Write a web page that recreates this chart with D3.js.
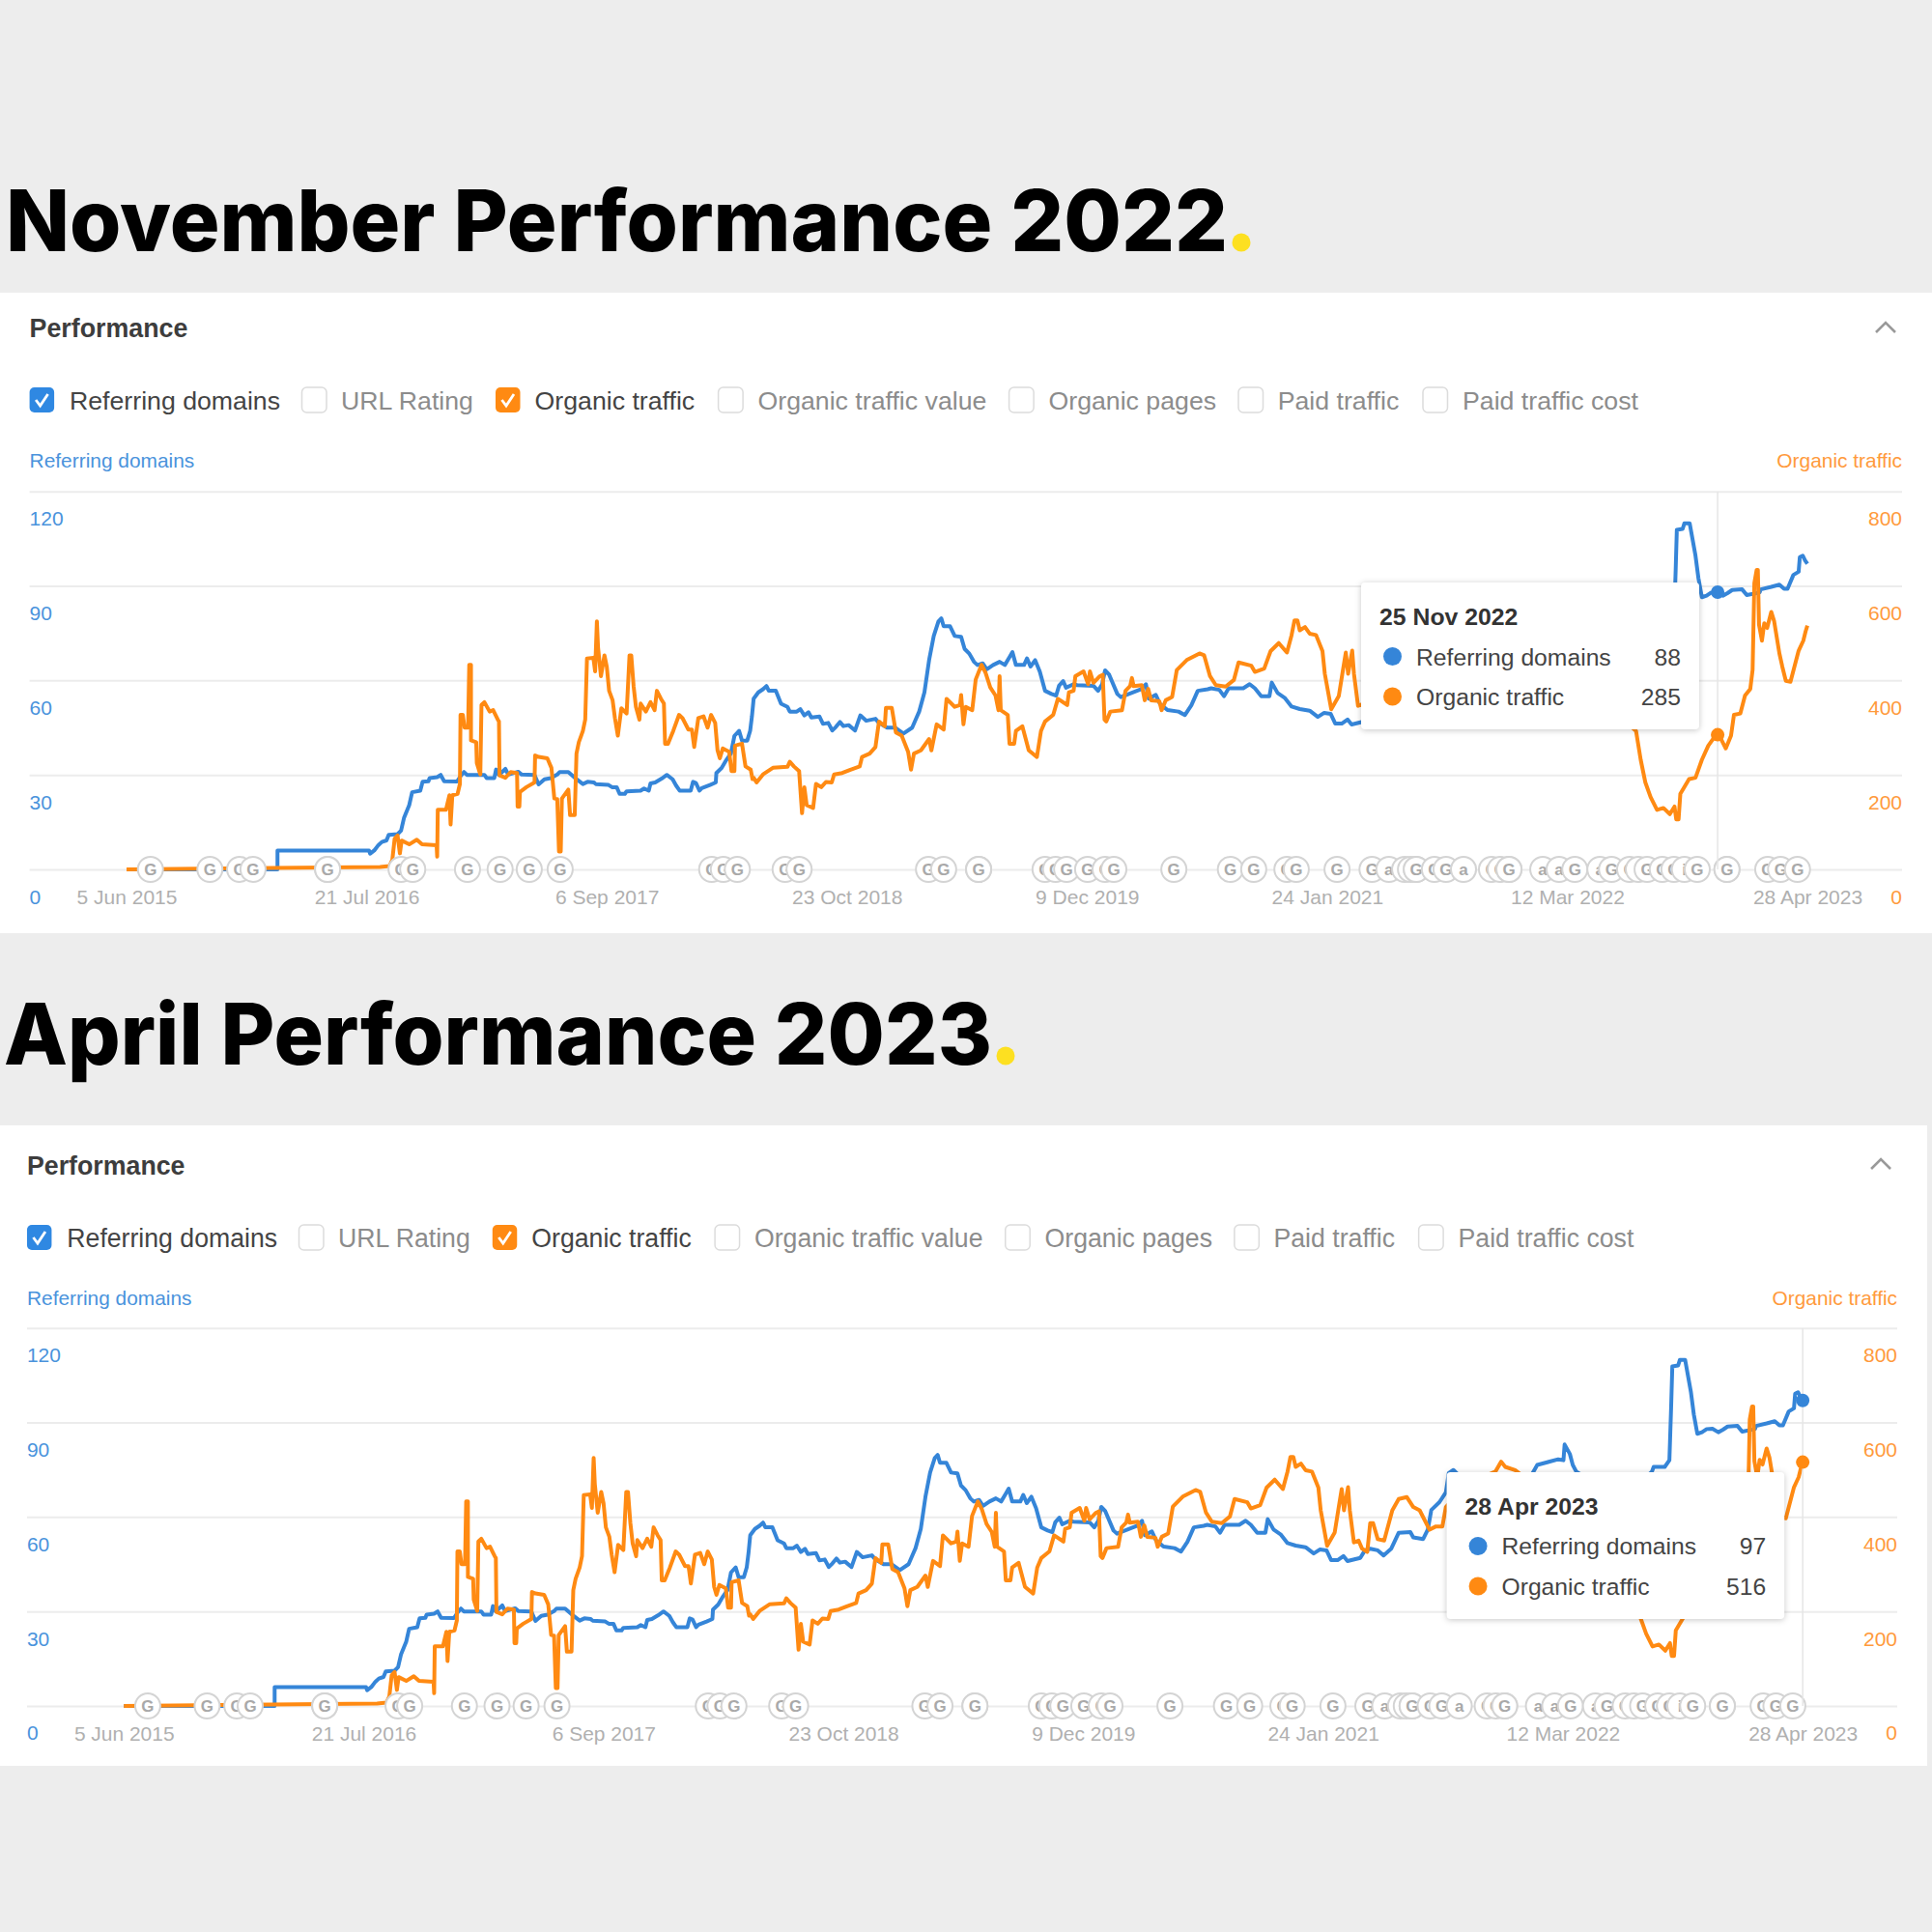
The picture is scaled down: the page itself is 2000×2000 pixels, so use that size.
<!DOCTYPE html>
<html>
<head>
<meta charset="utf-8">
<script src="https://cdn.jsdelivr.net/npm/d3@7"></script>
<style>
  body { margin: 0; background: #ededed; }
  svg { display: block; }
  text { font-family: "Liberation Sans", Arial, sans-serif; }
  .headline { font-family: Inter, sans-serif; font-weight: 800; }
</style>
</head>
<body>
<svg id="chart" width="2000" height="2000"></svg>
<script>
// days since 5 Jun 2015. parts hidden by both tooltips are estimates
const domainDays = [0,259,259,416,418,425,432,438,446,450,465,471,476,485,490,504,508,518,520,533,539,545,567,573,579,584,614,618,631,634,639,650,655,672,678,700,707,717,728,739,743,758,769,783,791,802,805,827,833,841,846,855,858,882,888,896,899,907,918,927,937,943,949,968,972,977,983,987,1001,1011,1012,1021,1029,1037,1043,1051,1056,1065,1070,1073,
  1076,1084,1092,1098,1102,1114,1123,1134,1138,1150,1156,1163,1170,1175,1189,1195,1204,1211,1217,1224,1230,1239,1250,1259,1269,1285,1291,1305,1319,1333,1348,1355,1360,1369,1377,1385,1393,1398,1402,1413,1421,1432,1438,1446,1454,1460,1469,1476,1487,1498,1507,1515,1520,1526,1540,1545,1551,1559,1567,1576,1587,1595,1600,1607,1612,1625,1631,1659,1667,1674,1679,1686,1700,1706,1741,1749,1754,1766,1773,1786,1805,1816,1827,1838,1855,
  1861,1875,1883,1891,1916,1927,1936,1947,1961,1965,1975,1987,1999,2013,2030,2044,2055,2066,2074,2085,2095,2102,2124,2132,2141,2154,2164,2177,2190,2210,2215,2232,2240,2246,2260,2271,2276,2284,2300,2350,2400,2420,2428,2448,2464,2473,2475,2484,2489,2495,2550,2600,2625,2628,2647,2655,
  2658,2660,2670,2673,2682,2692,2697,2703,2711,2719,2729,2739,2747,2755,2772,2780,2802,2804,2822,2836,2844,2850,2860,2869,2871,2876,2880,2884];
const domainValues = [0,0,6,6,5,6,7.7,8.7,9.2,11,11.2,12.3,16.3,20.4,24.5,25,27.8,28,29,29.3,30,28,27.9,29.6,30.9,30,30,29,29,31.7,30,31.9,30.1,31,30.1,30,27,28.6,29,30.1,30.9,30.9,29.1,27.1,27.8,27.6,27.1,26.8,26.1,26.1,24,24,24.8,25,25.7,25,27.3,27.6,28.8,30,28.6,26.6,25,25,27.8,27.4,25,25.8,26.8,27.6,30.6,32.2,34.7,36.8,42.4,44,40.9,40.9,44,48.5,
  54.2,56.2,57.2,58.2,56.7,56.7,52.6,51.6,50.1,50.1,50.9,48.9,49.9,48.2,48.5,46.2,46.5,44.1,45.2,46.8,45.5,45.8,44.1,48.9,47.2,47.8,46.5,45,45,43.1,45,48,50.1,56.2,66.4,74.1,78.7,79.7,77.2,77.2,74.1,73.8,70,68.5,65.9,64.9,65.4,63.5,64.9,65.9,64.9,67.4,69,64.9,64.9,67,64.4,66.4,62.8,56.7,55.7,55.2,58.3,59.8,57.7,58.8,58.5,58.3,56.7,58.8,63.2,61.8,55.7,54.7,57.2,58.8,54.2,55.4,52.6,50.6,50.1,49,52.1,56.7,57.2,
  57.5,57,55,57.5,57.5,58.8,57.5,55,55,59.3,56,54.5,51.7,50.9,50.4,48.4,49.7,49.4,46.3,46.3,47.6,46,47,49.4,49.9,49.4,47.8,49.9,55,55.2,53.5,53,56,62.2,64.7,67.8,73.9,74.9,72,70,70,73.9,76.5,77.5,78.3,78,83,80,76.5,74.4,68,70,74.4,75.9,75.9,78,
  95,107.8,108.1,109.9,109.9,99.6,92.5,86.4,86.9,87.9,88,86.9,87.7,88.7,88.9,87.1,87.9,88.9,89.7,90.4,89.1,89.1,93.5,94.5,99.1,99.6,98.1,97];

const trafficDays = [0,435,451,456,460,465,469,472,485,498,507,532,533,534,548,554,556,559,568,572,573,577,580,586,588,591,591,600,601,607,609,614,623,629,637,639,640,650,659,670,671,674,675,686,700,701,707,722,729,734,739,742,745,747,758,761,769,772,776,783,787,790,801,804,807,809,814,820,824,828,834,838,843,849,858,863,866,870,874,880,882,891,899,906,910,917,922,924,929,938,948,954,964,970,974,981,990,997,1003,1010,1014,1018,1023,1034,1038,1043,1044,1056,1062,1071,1074,
  1076,1081,1092,1109,1134,1138,1145,1154,1159,1163,1167,1178,1183,1192,1200,1210,1214,1228,1242,1258,1262,1275,1285,1291,1301,1303,1313,1320,1330,1341,1346,1351,1363,1377,1381,1390,1402,1407,1421,1430,1432,1436,1440,1451,1457,1467,1474,1482,1491,1496,1498,1500,1512,1515,1523,1526,1537,1548,1562,1569,1576,1590,1598,1614,1617,1625,1628,1642,1650,1653,1659,1670,1675,1678,1681,1688,1708,1714,1722,1725,1728,1742,1747,1753,1758,1772,1776,1783,1794,1802,1819,1841,1849,1859,
  1869,1886,1900,1908,1930,1936,1952,1963,1977,1991,1999,2004,2009,2013,2022,2030,2041,2052,2056,2061,2067,2080,2087,2092,2096,2103,2106,2113,2121,2127,2136,2141,2146,2154,2165,2179,2190,2204,2215,2226,2243,2254,2265,2271,2300,2343,2356,2366,2373,2390,2410,2470,2530,
  2590,2598,2606,2615,2626,2637,2648,2656,2659,2663,2666,2681,2692,2703,2714,2728,2733,2744,2753,2758,2769,2777,2786,2790,2793,2797,2799,2801,2806,2810,2815,2822,2827,2836,2841,2847,2855,2869,2877,2881,2884];
const trafficValues = [0,5,7,20,65,72,34,61,53,63,53,51,27,126,126,157,95,157,160,181,327,327,300,300,433,433,273,269,225,201,348,354,334,337,317,313,199,194,206,204,133,133,164,174,184,241,238,235,215,150,149,38,38,150,169,115,115,245,269,293,317,446,448,419,525,470,409,453,429,378,358,320,283,341,330,453,453,388,344,317,351,334,354,337,378,361,351,266,266,293,327,320,296,296,259,320,324,300,327,310,252,235,256,249,208,208,262,266,218,211,191,
  194,184,201,215,217,228,218,208,119,174,136,130,181,174,185,184,201,204,211,218,238,245,259,313,303,342,342,290,283,249,211,245,252,276,252,307,296,361,344,348,369,307,344,337,402,433,416,385,368,337,409,337,327,266,266,293,303,252,238,293,313,327,361,348,375,378,409,419,392,419,395,409,412,317,313,334,337,378,388,405,388,390,358,382,358,356,337,358,365,422,443,457,453,409,
  390,387,401,438,431,418,425,462,479,459,496,527,527,506,513,499,496,462,414,380,339,367,421,459,414,463,414,346,350,333,326,387,387,353,350,414,438,442,421,414,373,380,380,421,460,489,496,517,506,499,480,430,360,
  293,232,184,153,126,130,117,133,106,106,160,191,194,232,262,286,283,256,283,327,330,368,382,422,606,634,634,518,484,521,511,545,525,457,429,399,397,463,484,504,516];

// google / ahrefs update badges along the baseline
const updateDays = [41,143,194,217,345,345,471,491,585,641,691,744,1004,1024,1048,1130,1154,1376,1402,1462,1462,1576,1594,1613,1649,1679,1694,1797,1894,1934,1991,2007,2077,2137,2166,2193,2203,2213,2213,2244,2264,2294,2342,2357,2372,2372,2430,2458,2485,2528,2548,2579,2594,2609,2635,2655,2673,2695,2746,2746,2816,2838,2867];
const updateLetters = ["G","G","G","G","G","G","G","G","G","G","G","G","G","G","G","G","G","G","G","G","G","G","G","G","G","G","G","G","G","G","G","G","G","G","a","G","G","G","G","G","G","a","G","G","G","G","a","a","G","a","G","G","i","G","G","G","i","G","G","G","G","G","G"];

const xTickLabels = ["5 Jun 2015","21 Jul 2016","6 Sep 2017","23 Oct 2018","9 Dec 2019","24 Jan 2021","12 Mar 2022","28 Apr 2023"];
const domainTicks = [0,30,60,90,120];
const trafficTicks = [0,200,400,600,800];
const metricNames = ["Referring domains","URL Rating","Organic traffic","Organic traffic value","Organic pages","Paid traffic","Paid traffic cost"];
const metricOn = [true,false,true,false,false,false,false];

const BLUE = "#3585d8";
const ORANGE = "#ff8a12";
const svg = d3.select("#chart");

const parseDay = d3.timeParse("%e %b %Y");
const firstDay = parseDay(xTickLabels[0]);
const toDate = (d) => d3.timeDay.offset(firstDay, d);

const x = d3.scaleTime()
  .domain([firstDay, parseDay(xTickLabels[xTickLabels.length - 1])])
  .range([131, 1871]);
const yDomains = d3.scaleLinear().domain([0, 120]).range([900, 508.7]);
const yTraffic = d3.scaleLinear().domain([0, 800]).range([900, 508.7]);

const boxX = [30.6,312.5,513,743.6,1044.6,1282,1473];
const labelX = [72,353,553.6,784.5,1085.5,1322.7,1514];

function headline(text, startX, width, dotX, baseline) {
  svg.append("text").attr("class", "headline")
    .attr("x", startX).attr("y", baseline)
    .attr("font-size", 88).attr("fill", "#000")
    .attr("textLength", width).attr("lengthAdjust", "spacingAndGlyphs").text(text);
  svg.append("circle").attr("cx", dotX).attr("cy", baseline - 9).attr("r", 9.5).attr("fill", "#fde021");
}

function drawPanel(g, tip) {
  const shift = tip.headShift;

  // header
  g.append("text").attr("x", 30.6).attr("y", 349 + shift)
    .attr("font-size", 26.8).attr("font-weight", 700).attr("fill", "#3d3d3d").text("Performance");
  g.append("polyline").attr("points", "1942,344 1952,334 1962,344")
    .attr("fill", "none").attr("stroke", "#999").attr("stroke-width", 2.6);

  // metric checkboxes
  metricNames.forEach((name, i) => {
    const on = metricOn[i];
    g.append("rect").attr("x", boxX[i]).attr("y", 401 + shift).attr("width", 25.5).attr("height", 26).attr("rx", 5)
      .attr("fill", on ? (i === 0 ? "#2f88e2" : ORANGE) : "#fff")
      .attr("stroke", on ? "none" : "#dcdcdc").attr("stroke-width", 1.5);
    if (on) {
      g.append("path").attr("d", `M${boxX[i] + 6.5},${414 + shift} l4.5,6 l8,-12`)
        .attr("fill", "none").attr("stroke", "#fff").attr("stroke-width", 2.8);
    }
    g.append("text").attr("x", labelX[i]).attr("y", 424 + shift)
      .attr("font-size", 26.7).attr("fill", on ? "#444" : "#8c8c8c").text(name);
  });

  // axis titles
  g.append("text").attr("x", 30.6).attr("y", 484 + shift)
    .attr("font-size", 20.9).attr("fill", "#4a93dc").text("Referring domains");
  g.append("text").attr("x", 1969).attr("y", 484 + shift).attr("text-anchor", "end")
    .attr("font-size", 20.9).attr("fill", "#ff9a3c").text("Organic traffic");

  // gridlines
  const grid = g.append("g").attr("transform", "translate(30.6,0)")
    .call(d3.axisRight(yDomains).tickValues(domainTicks).tickSize(1938.4).tickFormat(""));
  grid.select(".domain").remove();
  grid.selectAll("line").attr("stroke", "#ececec").attr("stroke-width", 2);

  // left and right ticks sit under their gridlines
  const left = g.append("g").attr("transform", "translate(30.6,0)")
    .call(d3.axisRight(yDomains).tickValues(domainTicks).tickSize(0));
  left.select(".domain").remove();
  left.selectAll("text").attr("x", 0).attr("dy", 35).attr("font-size", 21)
    .attr("font-family", "Liberation Sans").attr("fill", "#4a93dc");

  const right = g.append("g").attr("transform", "translate(1969,0)")
    .call(d3.axisLeft(yTraffic).tickValues(trafficTicks).tickSize(0));
  right.select(".domain").remove();
  right.selectAll("text").attr("x", 0).attr("dy", 35).attr("font-size", 21)
    .attr("font-family", "Liberation Sans").attr("fill", "#ff9a3c");

  const bottom = g.append("g").attr("transform", "translate(0,900)")
    .call(d3.axisBottom(x).tickValues(xTickLabels.map(parseDay)).tickSize(0)
      .tickFormat((d, i) => xTickLabels[i]));
  bottom.select(".domain").remove();
  bottom.selectAll("text").attr("y", 0).attr("dy", 36).attr("font-size", 21)
    .attr("font-family", "Liberation Sans").attr("fill", "#b0b0b0");

  // series
  const domainLine = d3.line().x((d) => x(toDate(d))).y((d, i) => yDomains(domainValues[i]));
  const trafficLine = d3.line().x((d) => x(toDate(d))).y((d, i) => yTraffic(trafficValues[i]));
  g.append("path").attr("d", domainLine(domainDays)).attr("fill", "none")
    .attr("stroke", BLUE).attr("stroke-width", 4).attr("stroke-linejoin", "round");
  g.append("path").attr("d", trafficLine(trafficDays)).attr("fill", "none")
    .attr("stroke", ORANGE).attr("stroke-width", 4).attr("stroke-linejoin", "round");

  // update badges
  const badges = g.append("g").selectAll("g").data(updateDays).join("g")
    .attr("transform", (d) => `translate(${x(toDate(d))},900)`);
  badges.append("circle").attr("r", 13).attr("fill", "#fff").attr("stroke", "#d4d4d4").attr("stroke-width", 2);
  badges.append("text").attr("text-anchor", "middle").attr("dy", 6)
    .attr("font-size", 17).attr("font-weight", 700).attr("fill", "#a9a9a9")
    .text((d, i) => updateLetters[i]);

  // hover state
  const hoverX = x(toDate(tip.day));
  g.append("line").attr("x1", hoverX).attr("x2", hoverX).attr("y1", 509).attr("y2", 900)
    .attr("stroke", "#e6e6e6").attr("stroke-width", 1.5);
  g.append("circle").attr("cx", hoverX).attr("cy", yDomains(tip.domains)).attr("r", 7).attr("fill", BLUE);
  g.append("circle").attr("cx", hoverX).attr("cy", yTraffic(tip.traffic)).attr("r", 7).attr("fill", ORANGE);

  // tooltip
  const t = g.append("g").attr("transform", `translate(${tip.x},${tip.y})`);
  t.append("rect").attr("width", 350).attr("height", 152).attr("rx", 4).attr("fill", "#fff")
    .style("filter", "drop-shadow(0 1px 3px rgba(0,0,0,0.22))");
  t.append("text").attr("x", 19).attr("y", 44).attr("font-size", 24.8).attr("font-weight", 700)
    .attr("fill", "#333").text(tip.label);
  [["Referring domains", tip.domains, BLUE, 76.5], ["Organic traffic", tip.traffic, ORANGE, 118]].forEach((row) => {
    t.append("circle").attr("cx", 32.5).attr("cy", row[3]).attr("r", 9.5).attr("fill", row[2]);
    t.append("text").attr("x", 57).attr("y", row[3] + 9).attr("font-size", 24.7).attr("fill", "#444").text(row[0]);
    t.append("text").attr("x", 331).attr("y", row[3] + 9).attr("text-anchor", "end")
      .attr("font-size", 24.7).attr("fill", "#444").text(row[1]);
  });
}

headline("November Performance 2022", 6, 1265, 1285, 260);
headline("April Performance 2023", 4, 1023, 1041, 1102);

svg.append("rect").attr("x", 0).attr("y", 303).attr("width", 2000).attr("height", 663).attr("fill", "#fff");
svg.append("rect").attr("x", 0).attr("y", 1165).attr("width", 1995).attr("height", 663).attr("fill", "#fff");

drawPanel(svg.append("g"), { day: 2730, domains: 88, traffic: 285, label: "25 Nov 2022", x: 1409, y: 603, headShift: 0 });
drawPanel(svg.append("g").attr("transform", "translate(-2.6,866) scale(0.9988,1)"),
  { day: 2884, domains: 97, traffic: 516, label: "28 Apr 2023", x: 1502, y: 658, headShift: 1 });
</script>
</body>
</html>
